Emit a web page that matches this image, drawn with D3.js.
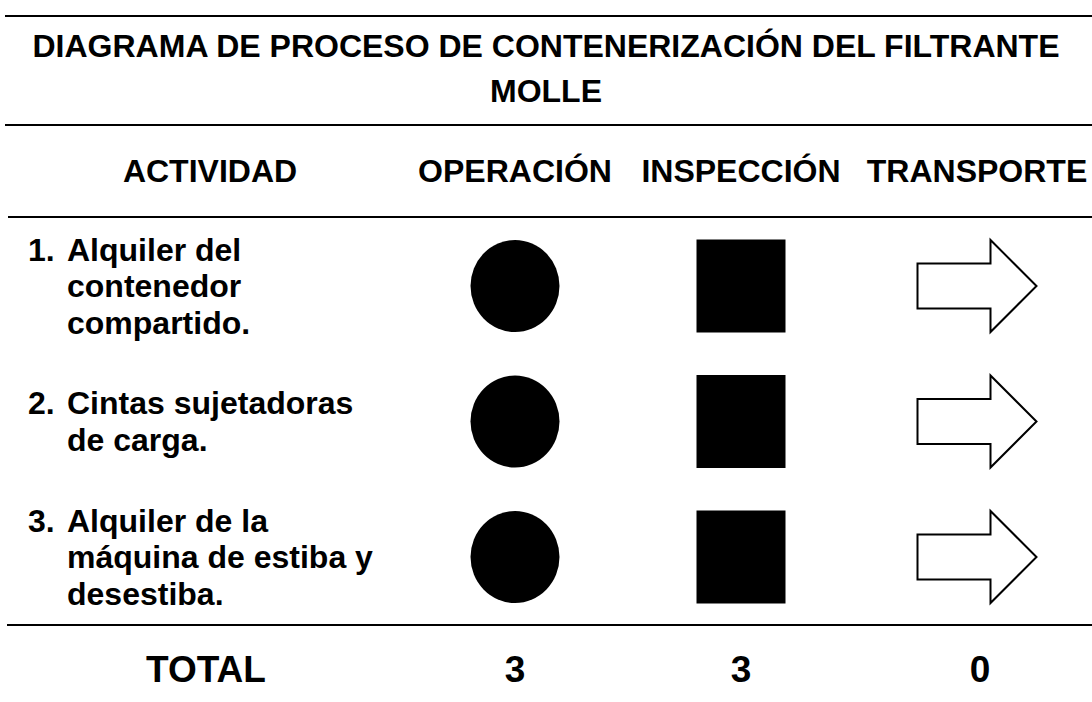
<!DOCTYPE html>
<html>
<head>
<meta charset="utf-8">
<script src="https://cdn.jsdelivr.net/npm/d3@7/dist/d3.min.js"></script>
<style>
  html, body { margin: 0; padding: 0; background: #fff; }
  svg { display: block; }
  text { font-family: "Liberation Sans", Arial, Helvetica, sans-serif; font-weight: bold; fill: #000; }
</style>
</head>
<body>
<svg id="chart" width="1092" height="702"></svg>
<script>
// ---- data ----
const titleLines = ["DIAGRAMA DE PROCESO DE CONTENERIZACIÓN DEL FILTRANTE", "MOLLE"];
const columns = ["ACTIVIDAD", "OPERACIÓN", "INSPECCIÓN", "TRANSPORTE"];
const symbolTypes = ["circle", "square", "arrow"];
const activityNumbers = ["1.", "2.", "3."];
const activityLines = [
  ["Alquiler del", "contenedor", "compartido."],
  ["Cintas sujetadoras", "de carga."],
  ["Alquiler de la", "máquina de estiba y", "desestiba."]
];
// 1 = filled (counted), 0 = hollow (not counted)
const operacion  = [1, 1, 1];
const inspeccion = [1, 1, 1];
const transporte = [0, 0, 0];
const totalLabel = "TOTAL";
const totals = [3, 3, 0];

// ---- layout ----
const svg = d3.select("#chart");
const W = 1092;
const x = d3.scaleOrdinal().domain(columns).range([210, 515, 741, 977]);
const y = d3.scaleLinear().domain([0, 2]).range([286, 557]);
const lineH = 36.5;
const fs = 32;

function hline(yy, x0) {
  svg.append("line").attr("x1", x0).attr("x2", W).attr("y1", yy).attr("y2", yy)
    .attr("stroke", "#000").attr("stroke-width", 2.2);
}
hline(16, 5);
hline(125, 5);
hline(217, 8);
hline(625, 7);

// title
svg.selectAll("text.title").data(titleLines).join("text")
  .attr("class", "title")
  .attr("x", 546).attr("y", (d, i) => 57 + i * 45)
  .attr("text-anchor", "middle").attr("font-size", fs)
  .text(d => d);

// headers
svg.selectAll("text.head").data(columns).join("text")
  .attr("class", "head")
  .attr("x", d => x(d)).attr("y", 182)
  .attr("text-anchor", "middle").attr("font-size", fs)
  .text(d => d);

// activity text
activityLines.forEach((lines, i) => {
  const y0 = y(i) - (lines.length - 1) / 2 * lineH + 11;
  svg.append("text").attr("x", 28).attr("y", y0).attr("font-size", fs).text(activityNumbers[i]);
  svg.selectAll(null).data(lines).join("text")
    .attr("x", 67).attr("y", (d, k) => y0 + k * lineH)
    .attr("font-size", fs).text(d => d);
});

// symbols
const series = [operacion, inspeccion, transporte];
series.forEach((vals, c) => {
  const cx = x(columns[c + 1]);
  const type = symbolTypes[c];
  vals.forEach((v, i) => {
    const cy = y(i);
    const fill = v ? "#000" : "#fff";
    if (type === "circle") {
      svg.append("ellipse").attr("cx", cx).attr("cy", cy).attr("rx", 44.5).attr("ry", 46)
        .attr("fill", fill);
    } else if (type === "square") {
      svg.append("rect").attr("x", cx - 44.5).attr("y", cy - 46.5).attr("width", 89).attr("height", 93)
        .attr("fill", fill);
    } else {
      const w = 119, h = 92, bh = 45, neck = 73;
      const l = cx - w / 2;
      const pts = [
        [l, cy - bh / 2], [l + neck, cy - bh / 2], [l + neck, cy - h / 2],
        [l + w, cy], [l + neck, cy + h / 2], [l + neck, cy + bh / 2], [l, cy + bh / 2]
      ];
      svg.append("path").attr("d", d3.line()(pts) + "Z")
        .attr("fill", fill).attr("stroke", "#000").attr("stroke-width", 2)
        .attr("stroke-linejoin", "miter");
    }
  });
});

// totals
svg.append("text").attr("x", 206).attr("y", 682).attr("text-anchor", "middle")
  .attr("font-size", 37).text(totalLabel);
svg.selectAll("text.total").data(totals).join("text")
  .attr("class", "total")
  .attr("x", (d, i) => x(columns[i + 1]) + (i === 2 ? 3 : 0)).attr("y", 682)
  .attr("text-anchor", "middle").attr("font-size", 37)
  .text(d => d);
</script>
</body>
</html>
